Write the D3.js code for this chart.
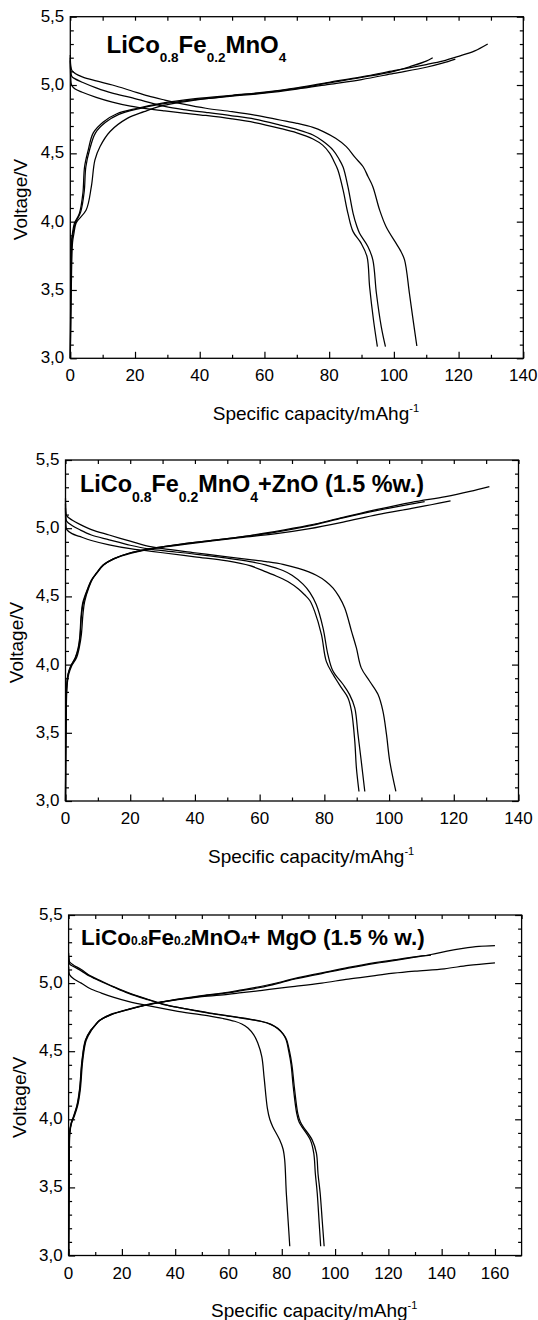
<!DOCTYPE html>
<html><head><meta charset="utf-8">
<script src="https://cdnjs.cloudflare.com/ajax/libs/d3/7.8.5/d3.min.js"></script>
<style>html,body{margin:0;padding:0;background:#fff;} svg{display:block;}</style>
</head><body><svg id="chart" width="538" height="1320"></svg>
<script>
// ---------- tick values / labels ----------
const yTicks = [3.0, 3.5, 4.0, 4.5, 5.0, 5.5];
const yTickLabels = ["3,0", "3,5", "4,0", "4,5", "5,0", "5,5"];
const xTicks140 = [0, 20, 40, 60, 80, 100, 120, 140];
const xTicks170 = [0, 20, 40, 60, 80, 100, 120, 140, 160];
const xAxisLabel = "Specific capacity/mAhg";
const xAxisLabelSup = "-1";
const yAxisLabel = "Voltage/V";

// ---------- titles ([text, isSub]) ----------
const title1 = [["LiCo",0],["0.8",1],["Fe",0],["0.2",1],["MnO",0],["4",1]];
const title2 = [["LiCo",0],["0.8",1],["Fe",0],["0.2",1],["MnO",0],["4",1],["+ZnO (1.5 %w.)",0]];
const title3 = [["LiCo",0],["0.8",1],["Fe",0],["0.2",1],["MnO",0],["4",1],["+ MgO (1.5 % w.)",0]];

// ---------- panel 1: LiCo0.8Fe0.2MnO4 ----------
const p1Discharge1 = [[0,5.18],[0.15,5.05],[0.4,5.0],[1.5,4.97],[3.7,4.947],[8,4.91],[13,4.875],[18.6,4.845],[24,4.825],[29.2,4.81],[35,4.795],[41.9,4.777],[50,4.752],[57,4.725],[64.8,4.683],[70,4.65],[75,4.605],[78,4.56],[80.2,4.5],[81.5,4.44],[82.7,4.378],[84.3,4.232],[85.8,4.061],[87.4,3.927],[89.9,3.841],[91.7,3.744],[92.5,3.524],[93.7,3.28],[94.9,3.085]];
const p1Discharge2 = [[0,5.2],[0.15,5.1],[0.5,5.062],[1.5,5.045],[3.7,5.02],[8,4.979],[13,4.94],[18.6,4.91],[24,4.875],[29.2,4.843],[35,4.82],[41.9,4.80],[50,4.775],[57,4.75],[64.8,4.707],[70,4.675],[75,4.634],[78,4.59],[81.2,4.524],[83,4.46],[84.3,4.40],[85.8,4.256],[87.4,4.061],[88.5,3.97],[89.4,3.915],[92,3.817],[93.5,3.72],[94.6,3.476],[96.1,3.232],[97.4,3.085]];
const p1Discharge3 = [[0,5.22],[0.15,5.14],[0.5,5.106],[1.5,5.085],[3.7,5.06],[8,5.03],[13,5.0],[18.6,4.96],[24,4.92],[29.2,4.89],[35,4.86],[41.9,4.83],[50,4.805],[57,4.78],[64.8,4.744],[70,4.72],[75,4.69],[78.2,4.659],[82,4.61],[85.3,4.549],[88,4.47],[90.5,4.402],[92,4.33],[93.5,4.256],[95.6,4.085],[97.6,3.963],[100.7,3.841],[102,3.79],[103.3,3.72],[104.8,3.476],[105.8,3.305],[107.1,3.09]];
const p1Charge1 = [[0,3.0],[0.15,3.5],[0.35,3.85],[0.7,3.92],[1.3,3.99],[2.8,4.06],[3.9,4.21],[4.4,4.4],[5.5,4.52],[7.1,4.65],[10.2,4.73],[14.4,4.79],[20.7,4.83],[28,4.866],[38.6,4.90],[50,4.925],[60,4.945],[70,4.975],[80,5.015],[90,5.055],[100,5.1],[105,5.135],[110,5.175],[112,5.2]];
const p1Charge2 = [[0,3.0],[0.2,3.5],[0.45,3.85],[0.9,3.92],[1.6,3.99],[3.2,4.07],[4.3,4.22],[4.8,4.4],[6,4.53],[7.8,4.65],[10.8,4.725],[15,4.785],[21,4.826],[28,4.86],[38.6,4.893],[50,4.918],[60,4.94],[70,4.97],[80,5.005],[90,5.04],[100,5.085],[110,5.13],[115,5.16],[119,5.19]];
const p1Charge3 = [[0,3.0],[0.3,3.5],[0.7,3.85],[1.1,3.91],[1.8,3.99],[4.9,4.085],[6.5,4.256],[7.6,4.45],[9.2,4.55],[12.3,4.66],[17.6,4.756],[22.8,4.805],[28,4.846],[38.6,4.89],[50,4.922],[60,4.948],[70,4.98],[80,5.02],[90,5.06],[100,5.105],[110,5.15],[115,5.175],[120,5.21],[125,5.25],[129,5.3]];

// ---------- panel 2: + ZnO ----------
const p2Discharge1 = [[0,5.15],[0.15,5.02],[0.4,4.99],[2,4.96],[4.3,4.94],[8,4.91],[13.5,4.878],[20,4.85],[25,4.835],[30,4.82],[40,4.79],[50,4.76],[57,4.725],[62,4.68],[66,4.64],[69.3,4.6],[72,4.555],[73.9,4.512],[75.5,4.47],[77,4.39],[79.1,4.22],[80.6,4.024],[82.7,3.927],[85.3,3.829],[87.3,3.756],[88.4,3.659],[89.4,3.439],[89.9,3.244],[90.7,3.07]];
const p2Discharge2 = [[0,5.18],[0.15,5.07],[0.4,5.05],[2,5.02],[4.3,4.99],[8,4.95],[13.5,4.915],[20,4.875],[25,4.85],[30,4.835],[40,4.81],[50,4.78],[57,4.755],[62,4.73],[67.2,4.69],[70,4.655],[73.4,4.59],[75.5,4.53],[77.5,4.44],[79.6,4.268],[81.1,4.073],[82.7,3.951],[85.8,3.854],[87.8,3.78],[89.4,3.683],[90.4,3.488],[91.4,3.293],[92.5,3.07]];
const p2Discharge3 = [[0,5.22],[0.15,5.11],[0.4,5.09],[2,5.06],[4.3,5.03],[8,4.99],[13.5,4.95],[20,4.905],[25.8,4.866],[30,4.85],[40,4.82],[50,4.79],[57,4.77],[62,4.755],[67.2,4.735],[72,4.705],[77.5,4.655],[80.5,4.61],[82.7,4.561],[84.5,4.5],[86.3,4.415],[88.4,4.244],[89.9,4.122],[91.4,3.976],[94,3.878],[96.6,3.78],[98.1,3.659],[99.2,3.488],[100.2,3.293],[102.1,3.07]];
const p2Charge1 = [[0,3.0],[0.15,3.6],[0.4,3.85],[0.8,3.93],[1.6,3.99],[3,4.05],[3.9,4.12],[4.4,4.2],[4.8,4.35],[5.3,4.45],[6.9,4.56],[8,4.62],[9.5,4.67],[11.6,4.73],[14.8,4.775],[20.1,4.82],[27.5,4.855],[38,4.89],[54,4.935],[64.6,4.97],[75,5.015],[85.8,5.075],[96.4,5.13],[105,5.17],[111,5.195]];
const p2Charge2 = [[0,3.0],[0.2,3.6],[0.5,3.85],[1,3.93],[1.9,3.99],[3.4,4.05],[4.3,4.13],[4.9,4.22],[5.4,4.37],[5.9,4.46],[7.3,4.57],[8.4,4.63],[9.8,4.675],[11.8,4.73],[15,4.775],[20.1,4.815],[27.5,4.852],[38,4.885],[54,4.93],[64.6,4.958],[75,4.995],[85.8,5.045],[96.4,5.1],[107,5.145],[113,5.172],[119,5.2]];
const p2Charge3 = [[0,3.0],[0.15,3.6],[0.4,3.85],[0.8,3.93],[1.7,3.99],[3.1,4.05],[4,4.12],[4.5,4.2],[4.9,4.35],[5.5,4.45],[7,4.56],[8.1,4.62],[9.6,4.67],[11.7,4.73],[14.8,4.775],[20.1,4.82],[27.5,4.855],[38,4.89],[54,4.937],[64.6,4.975],[75,5.02],[85.8,5.08],[96.4,5.138],[107,5.19],[117.5,5.232],[125,5.27],[131,5.305]];

// ---------- panel 3: + MgO ----------
const p3Discharge1 = [[0,5.12],[0.15,5.08],[0.4,5.06],[2,5.03],[4.75,5.0],[8,4.96],[12.3,4.927],[17,4.895],[22.3,4.866],[29.8,4.834],[41,4.793],[53.5,4.756],[58,4.74],[62.3,4.72],[65,4.70],[67.3,4.671],[69.5,4.62],[71,4.56],[72.5,4.46],[73.4,4.3],[74.6,4.08],[75.5,4.0],[76.6,3.946],[79.2,3.849],[80.5,3.78],[81.1,3.70],[81.7,3.459],[82.4,3.25],[83,3.068]];
const p3Discharge2 = [[0,5.2],[0.15,5.16],[0.4,5.14],[2,5.12],[4.75,5.09],[8,5.05],[12.3,5.01],[17,4.97],[22.3,4.927],[29.8,4.878],[34.8,4.848],[40,4.825],[47.3,4.798],[53,4.778],[59.8,4.758],[66,4.74],[72.3,4.718],[76,4.695],[78.5,4.665],[80.5,4.625],[81.6,4.585],[82.6,4.5],[83.5,4.40],[84.3,4.239],[85.6,4.044],[86.5,3.98],[87.5,3.946],[90.7,3.849],[92,3.751],[92.6,3.6],[93.3,3.459],[94,3.25],[94.6,3.068]];
const p3Discharge3 = [[0,5.22],[0.15,5.18],[0.4,5.155],[2,5.13],[4.75,5.1],[8,5.055],[12.3,5.015],[17,4.972],[22.3,4.93],[29.8,4.88],[34.8,4.85],[40,4.826],[47.3,4.8],[53,4.78],[59.8,4.76],[66,4.742],[72.3,4.72],[76,4.697],[78.5,4.668],[80.5,4.628],[81.8,4.585],[82.9,4.5],[83.8,4.40],[84.7,4.239],[86,4.044],[87,3.98],[88,3.946],[91.4,3.849],[93,3.751],[93.6,3.6],[94.4,3.459],[95.2,3.25],[95.9,3.068]];
const p3Charge1 = [[0,3.0],[0.15,3.5],[0.4,3.9],[1,3.97],[1.9,4.02],[3.2,4.1],[4.2,4.22],[5.1,4.43],[6.4,4.58],[8.4,4.654],[9.75,4.685],[11.6,4.725],[16,4.768],[22.3,4.805],[29.75,4.841],[35,4.862],[41,4.88],[50,4.905],[59.75,4.928],[65,4.945],[72,4.968],[80,5.005],[85,5.03],[95,5.07],[105,5.11],[115,5.145],[122,5.165],[130,5.19],[136,5.21],[142,5.235],[148,5.255],[154,5.27],[160,5.276]];
const p3Charge2 = [[0,3.0],[0.2,3.5],[0.5,3.9],[1.1,3.97],[2.1,4.02],[3.4,4.1],[4.4,4.22],[5.3,4.43],[6.6,4.58],[8.6,4.654],[10,4.69],[11.8,4.728],[16,4.772],[22.3,4.808],[29.75,4.843],[35,4.862],[41,4.882],[50,4.908],[59.75,4.932],[65,4.95],[72,4.975],[80,5.01],[85,5.035],[95,5.075],[105,5.115],[115,5.15],[122,5.17],[130,5.193],[136,5.205]];
const p3Charge3 = [[0,3.0],[0.15,3.5],[0.35,3.9],[0.9,3.97],[1.8,4.02],[3.1,4.1],[4.1,4.22],[5,4.43],[6.3,4.58],[8.3,4.654],[9.6,4.683],[11.5,4.725],[16,4.768],[22.3,4.805],[29.75,4.841],[35,4.86],[41,4.878],[50,4.9],[59.75,4.918],[65,4.93],[72,4.945],[80,4.965],[85,4.976],[95,5.0],[105,5.03],[115,5.055],[122,5.073],[130,5.088],[141,5.105],[150,5.13],[160,5.149]];

// ---------- layout ----------
const FONT = "'Liberation Sans', Arial, Helvetica, sans-serif";
const panels = [
  {L:70.3, R:523.3, T:16.7, B:358.3, xMax:140, xTicks:xTicks140,
   series:[p1Discharge1,p1Discharge2,p1Discharge3,p1Charge1,p1Charge2,p1Charge3],
   title:title1, tx:106.5, ty:53.3, tSize:24, sSize:13.5, sShift:8.3},
  {L:65.5, R:518.5, T:460, B:801, xMax:140, xTicks:xTicks140,
   series:[p2Discharge1,p2Discharge2,p2Discharge3,p2Charge1,p2Charge2,p2Charge3],
   title:title2, tx:80, ty:491.7, tSize:23.4, sSize:14, sShift:10},
  {L:68.6, R:521.6, T:915, B:1255.5, xMax:170, xTicks:xTicks170,
   series:[p3Discharge1,p3Discharge2,p3Discharge3,p3Charge1,p3Charge2,p3Charge3],
   title:title3, tx:81, ty:945, tSize:22.5, sSize:12, sShift:0}
];

const svg = d3.select("#chart");
svg.append("rect").attr("width",538).attr("height",1320).attr("fill","#fff");

panels.forEach(p => {
  const x = d3.scaleLinear().domain([0, p.xMax]).range([p.L, p.R]);
  const y = d3.scaleLinear().domain([3.0, 5.5]).range([p.B, p.T]);
  const g = svg.append("g");

  const styleAxis = sel => {
    sel.select(".domain").remove();
    sel.selectAll("line").attr("stroke","#000").attr("stroke-width",1.2);
    sel.selectAll("text").remove();
  };
  const xMajor = d3.range(0, p.xMax + 0.001, 20);
  const xMinor = d3.range(10, p.xMax, 20);
  const xAll = d3.range(0, p.xMax + 0.001, 10);
  const yMinor = d3.range(3.1, 5.45, 0.1).filter(v => Math.abs(v*2 - Math.round(v*2)) > 0.01);

  // bottom ticks (inside)
  g.append("g").attr("transform",`translate(0,${p.B})`).call(d3.axisTop(x).tickValues(xMajor).tickSize(6.5)).call(styleAxis);
  g.append("g").attr("transform",`translate(0,${p.B})`).call(d3.axisTop(x).tickValues(xMinor).tickSize(3.5)).call(styleAxis);
  // top ticks (inside)
  g.append("g").attr("transform",`translate(0,${p.T})`).call(d3.axisBottom(x).tickValues(xAll).tickSize(4)).call(styleAxis);
  // left ticks
  g.append("g").attr("transform",`translate(${p.L},0)`).call(d3.axisRight(y).tickValues(yTicks).tickSize(6.5)).call(styleAxis);
  g.append("g").attr("transform",`translate(${p.L},0)`).call(d3.axisRight(y).tickValues(yMinor).tickSize(3.5)).call(styleAxis);
  // right ticks
  g.append("g").attr("transform",`translate(${p.R},0)`).call(d3.axisLeft(y).tickValues(yTicks).tickSize(6.5)).call(styleAxis);
  g.append("g").attr("transform",`translate(${p.R},0)`).call(d3.axisLeft(y).tickValues(yMinor).tickSize(3.5)).call(styleAxis);

  // frame
  g.append("rect").attr("x",p.L).attr("y",p.T).attr("width",p.R-p.L).attr("height",p.B-p.T)
    .attr("fill","none").attr("stroke","#000").attr("stroke-width",1.3);

  // tick labels
  g.selectAll(".xl").data(p.xTicks).join("text")
    .attr("x", d => x(d)).attr("y", p.B + 23)
    .attr("text-anchor","middle").attr("font-family",FONT).attr("font-size",17).attr("fill","#000")
    .text(d => d);
  g.selectAll(".yl").data(yTicks).join("text")
    .attr("x", p.L - 6).attr("y", (d) => y(d) + 5)
    .attr("text-anchor","end").attr("font-family",FONT).attr("font-size",17).attr("fill","#000")
    .text((d,i) => yTickLabels[i]);

  // axis titles
  const xl = g.append("text").attr("x", p.L + 142.5).attr("y", p.B + 61.5)
    .attr("font-family",FONT).attr("font-size",19).attr("fill","#000").text(xAxisLabel);
  xl.append("tspan").attr("dy",-8).attr("font-size",11).text(xAxisLabelSup);
  const cy = (p.T + p.B)/2 + 12;
  g.append("text").attr("transform",`translate(${p.L - 43},${cy}) rotate(-90)`)
    .attr("text-anchor","middle").attr("font-family",FONT).attr("font-size",19).attr("fill","#000")
    .text(yAxisLabel);

  // curves
  const line = d3.line().x(d => x(d[0])).y(d => y(d[1])).curve(d3.curveCatmullRom.alpha(0.5));
  g.selectAll(".curve").data(p.series).join("path")
    .attr("d", line).attr("fill","none").attr("stroke","#000").attr("stroke-width",1.25)
    .attr("stroke-linejoin","round");

  // panel title
  const t = g.append("text").attr("x",p.tx).attr("y",p.ty).attr("font-family",FONT)
    .attr("font-weight","bold").attr("font-size",p.tSize).attr("fill","#000");
  let prevSub = false;
  p.title.forEach(([s,isSub]) => {
    const ts = t.append("tspan").text(s);
    if (isSub) { ts.attr("font-size",p.sSize); if (p.sShift && !prevSub) ts.attr("dy",p.sShift); }
    else if (prevSub && p.sShift) ts.attr("dy",-p.sShift);
    prevSub = !!isSub;
  });
});
</script></body></html>
